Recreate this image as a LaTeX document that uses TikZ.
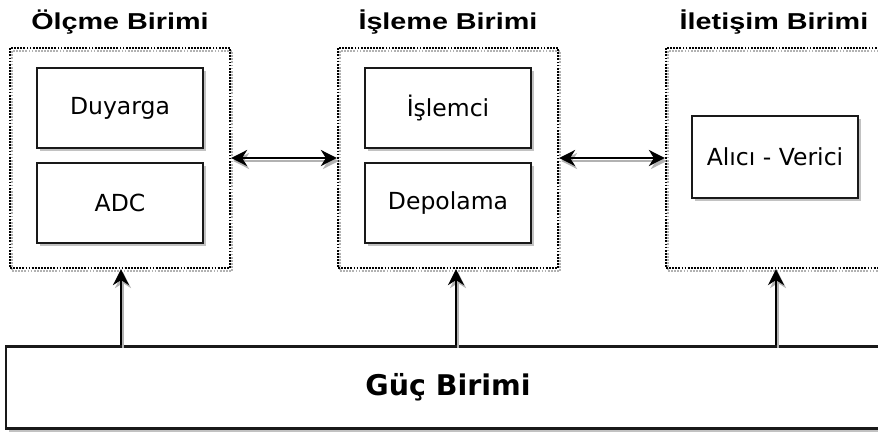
\documentclass[tikz,border=0pt]{standalone}
\usepackage{fontspec}
\setmainfont{DejaVu Sans}
\newfontfamily\titlefont{Liberation Sans}[FakeStretch=1.25]
\usetikzlibrary{arrows.meta,shadows}
\tikzset{
  dots/.style={line width=2.2pt, dash pattern=on 1.8pt off 1.3pt},
  unitbox/.style={draw=black, dots,
    minimum width=220pt, minimum height=220pt, inner sep=0pt,
    preaction={draw=black!30, dots, transform canvas={xshift=2pt,yshift=-3pt}}},
  partbox/.style={draw=black!90, line width=2.3pt, fill=white,
    minimum width=166pt, minimum height=80pt, inner sep=0pt,
    font=\fontsize{23.5}{28}\selectfont,
    drop shadow={shadow xshift=2.5pt, shadow yshift=-3pt, fill=black!40, opacity=0.6}},
  title/.style={anchor=base, font=\titlefont\bfseries\fontsize{23}{27}\selectfont},
  link/.style={line width=2.3pt, draw=black,
    preaction={draw=black!30, line width=2.3pt, transform canvas={xshift=2pt,yshift=-3pt}}},
  twoway/.style={link, {Stealth[length=16pt,width=16pt,inset=5pt]}-{Stealth[length=16pt,width=16pt,inset=5pt]}},
  oneway/.style={link, -{Stealth[length=16pt,width=16pt,inset=5pt]}}
}
\begin{document}
\begin{tikzpicture}[x=1pt,y=-1pt]
\useasboundingbox (0,0) rectangle (878,434);

% unit containers
\node[unitbox] (c1) at (120,158) {};
\node[unitbox] (c2) at (448,158) {};
\node[unitbox] (c3) at (776,158) {};

% unit titles
\node[title] (t1) at (120,29) {Ölçme Birimi};
\node[title] (t2) at (448,29) {İşleme Birimi};
\node[title] (t3) at (774,29) {İletişim Birimi};

% inner components
\node[partbox] (duy) at (120,108) {Duyarga};
\node[partbox] (adc) at (120,203) {ADC};
\node[partbox] (isl) at (448,108) {İşlemci};
\node[partbox] (dep) at (448,203) {Depolama};
\node[partbox, minimum height=82pt] (alv) at (775,157) {Alıcı - Verici};

% power unit
\node[partbox, minimum width=884pt, minimum height=82pt,
      font=\bfseries\fontsize{28.5}{32}\selectfont] (guc) at (448,387.5) {Güç Birimi};

% data links between units
\draw[twoway] (c1.east) -- (c2.west);
\draw[twoway] (c2.east) -- (c3.west);

% power feeds
\draw[oneway] ([xshift=1pt]c1.south |- guc.north) -- ([xshift=1pt]c1.south);
\draw[oneway] ([xshift=8pt]c2.south |- guc.north) -- ([xshift=8pt]c2.south);
\draw[oneway] (c3.south |- guc.north) -- (c3.south);
\end{tikzpicture}
\end{document}
